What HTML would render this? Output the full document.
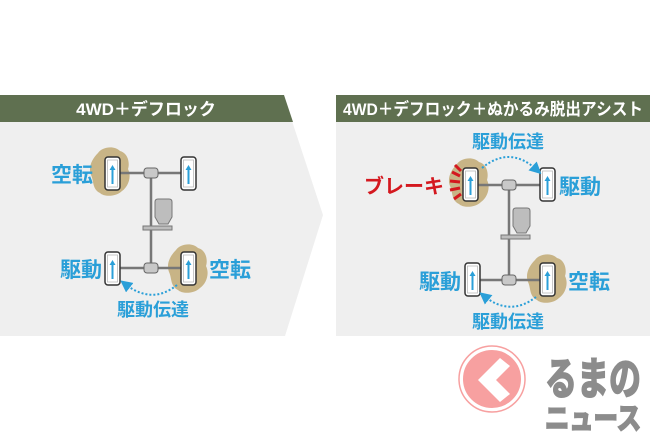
<!DOCTYPE html>
<html><head><meta charset="utf-8"><style>
html,body{margin:0;padding:0;background:#fff;width:650px;height:433px;overflow:hidden}
text{font-family:"Liberation Sans","Noto Sans CJK JP",sans-serif;font-weight:bold}
</style></head><body>
<svg width="650" height="433" viewBox="0 0 650 433" xmlns="http://www.w3.org/2000/svg">
<defs>
<marker id="ah" markerWidth="6" markerHeight="6" refX="3" refY="3" orient="auto"><path d="M0,0 L6,3 L0,6 z" fill="#2a9fd8"/></marker>
<g id="wh"><rect x="0" y="0" width="15" height="33" rx="3" fill="#fff" stroke="#333" stroke-width="1.5"/><rect x="2.5" y="3" width="10" height="27" fill="none" stroke="#bbb" stroke-width="0.8"/><path d="M7.5,27 V11" stroke="#2a9fd8" stroke-width="2"/><path d="M4.5,13 L7.5,8 L10.5,13 z" fill="#2a9fd8"/></g>
<g id="mud"><path d="M-6,-4 C-2,-10 10,-12 16,-6 C24,-4 26,6 24,12 C28,20 24,30 18,34 C12,40 0,40 -4,36 C-12,32 -10,24 -13,18 C-16,10 -12,2 -6,-4 z" fill="#c8b486"/></g>
<g id="drive"><path d="M0,3 Q0,0 3,0 H14 Q17,0 17,3 V18 L13,25 H4 L0,18 z" fill="#bdbdbd" stroke="#777" stroke-width="1"/><rect x="-12" y="27" width="29" height="4" fill="#bdbdbd" stroke="#777" stroke-width="1"/></g>
</defs>
<polygon points="0,121 292,121 323,215 285,336 0,336" fill="#efefef"/>
<polygon points="0,95 284,95 293,122 0,122" fill="#5f7050"/>
<text x="146" y="115" font-size="17" fill="#fff" text-anchor="middle">4WD＋デフロック</text>
<rect x="336" y="121" width="314" height="215" fill="#efefef"/>
<rect x="336" y="95" width="314" height="27" fill="#5f7050"/>
<text x="493" y="115" font-size="17" fill="#fff" text-anchor="middle" textLength="300" lengthAdjust="spacingAndGlyphs">4WD＋デフロック＋ぬかるみ脱出アシスト</text>

<use href="#mud" x="104" y="157"/>
<use href="#mud" x="182" y="254"/>
<path d="M120,173 H182 M151,173 V268 M120,268 H182" stroke="#777" stroke-width="2.5" fill="none"/>
<rect x="144" y="168" width="14" height="10" rx="3" fill="#c8c8c8" stroke="#666"/>
<rect x="144" y="263" width="14" height="10" rx="3" fill="#c8c8c8" stroke="#666"/>
<use href="#drive" x="155" y="199"/>
<use href="#wh" x="105" y="157"/>
<use href="#wh" x="181" y="157"/>
<use href="#wh" x="105" y="252"/>
<use href="#wh" x="181" y="252"/>
<path d="M177,285 Q152,305 125,284" stroke="#2a9fd8" stroke-width="2" stroke-dasharray="2,2" fill="none" marker-end="url(#ah)"/>
<text x="72" y="182" font-size="21" fill="#2a9fd8" text-anchor="middle">空転</text>
<text x="81" y="277" font-size="21" fill="#2a9fd8" text-anchor="middle">駆動</text>
<text x="230" y="277" font-size="21" fill="#2a9fd8" text-anchor="middle">空転</text>
<text x="153" y="316" font-size="18" fill="#2a9fd8" text-anchor="middle">駆動伝達</text>

<use href="#mud" x="463" y="168"/>
<use href="#mud" x="541" y="264"/>
<path d="M478,185 H541 M509,185 V280 M478,280 H541" stroke="#777" stroke-width="2.5" fill="none"/>
<rect x="502" y="180" width="14" height="10" rx="3" fill="#c8c8c8" stroke="#666"/>
<rect x="502" y="275" width="14" height="10" rx="3" fill="#c8c8c8" stroke="#666"/>
<use href="#drive" x="513" y="208"/>
<use href="#wh" x="463" y="168"/>
<use href="#wh" x="540" y="168"/>
<use href="#wh" x="465" y="263"/>
<use href="#wh" x="540" y="263"/>
<g stroke="#d4181f" stroke-width="3"><path d="M460,176 L452,172 M460,182 L450,181 M460,188 L450,190 M461,194 L454,199 M461,171 L455,165"/></g>
<path d="M482,168 Q510,145 537,170" stroke="#2a9fd8" stroke-width="2" stroke-dasharray="2,2" fill="none" marker-end="url(#ah)"/>
<path d="M536,297 Q510,317 484,296" stroke="#2a9fd8" stroke-width="2" stroke-dasharray="2,2" fill="none" marker-end="url(#ah)"/>
<text x="508" y="148" font-size="18" fill="#2a9fd8" text-anchor="middle">駆動伝達</text>
<text x="404" y="193" font-size="20" fill="#d4181f" text-anchor="middle">ブレーキ</text>
<text x="580" y="194" font-size="21" fill="#2a9fd8" text-anchor="middle">駆動</text>
<text x="440" y="289" font-size="21" fill="#2a9fd8" text-anchor="middle">駆動</text>
<text x="589" y="289" font-size="21" fill="#2a9fd8" text-anchor="middle">空転</text>
<text x="508" y="328" font-size="18" fill="#2a9fd8" text-anchor="middle">駆動伝達</text>

<circle cx="492" cy="379" r="30" fill="#f7a0a0" stroke="#fff" stroke-width="2"/>
<circle cx="492" cy="379" r="33" fill="none" stroke="#f7a0a0" stroke-width="1.5"/>
<polygon points="500,358 478,380 500,402 510,394 496,380 510,366" fill="#fff"/>
<text x="593" y="394" font-size="44" fill="#8c8c8c" stroke="#8c8c8c" stroke-width="2" text-anchor="middle" textLength="96" lengthAdjust="spacingAndGlyphs">るまの</text>
<text x="593" y="429" font-size="30" fill="#8c8c8c" stroke="#8c8c8c" stroke-width="2" text-anchor="middle" textLength="96" lengthAdjust="spacingAndGlyphs">ニュース</text>
</svg>
</body></html>
